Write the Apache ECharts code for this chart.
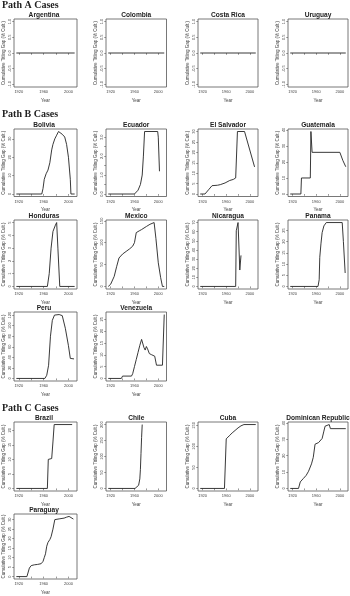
<!DOCTYPE html>
<html><head><meta charset="utf-8">
<script src="https://cdn.jsdelivr.net/npm/echarts@6/dist/echarts.min.js"></script>
<style>html,body{margin:0;padding:0;background:#fff}#c{width:350px;height:596px}</style>
</head><body><div id="c"></div>
<script>
// ---- data: [year, cumulative titling gap] ----
const argentina = [[1916,0],[2010,0]];
const colombia  = [[1916,0],[2010,0]];
const costaRica = [[1916,0],[2010,0]];
const uruguay   = [[1916,0],[2010,0]];
const bolivia = [[1916,0],[1957,0],[1959,3],[1961,8],[1964,11],[1967,13],[1970,17],[1973,24],[1975,27],[1978,30],[1981,32],[1984,34],[1987,33],[1990,32.5],[1994,31],[1997,27],[2000,20],[2003,8],[2004,0],[2010,0]];
const ecuador = [[1916,0],[1960,0],[1963,0.05],[1966,0.2],[1970,0.5],[1973,1.0],[1975,2.0],[1977,3.3],[1999,3.3],[2000,3.0],[2002,1.2]];
const elSalvador = [[1916,0],[1924,0],[1930,2],[1936,4],[1945,4.2],[1950,4.5],[1958,5.3],[1966,6.5],[1972,7],[1976,7.7],[1978,8],[1979,30],[1991,30],[2008,13]];
const guatemala = [[1916,0],[1934,0],[1935,10],[1950,10],[1951,39],[1953,26],[2000,26],[2005,21],[2010,17]];
const honduras = [[1916,0],[1966,0],[1969,1],[1972,3],[1975,4.3],[1979,4.8],[1981,5],[1983,3],[1986,0],[2010,0]];
const mexico = [[1916,0],[1920,5],[1926,23],[1930,45],[1934,65],[1940,74],[1946,80],[1952,86],[1957,92],[1960,100],[1963,123],[1968,127],[1972,130],[1980,137],[1986,142],[1993,146],[1996,110],[2000,54],[2004,20],[2007,0],[2010,0]];
const nicaragua = [[1916,0],[1976,0],[1977,61],[1978,63],[1980,70],[1983,18],[1985,34]];
const panama = [[1916,0],[1963,0],[1965,3],[1966,13],[1968,19],[1970,24],[1973,27],[1977,28.5],[2004,28.5],[2006,20],[2009,6]];
const peru = [[1916,0],[1962,0],[1965,6],[1968,25],[1971,80],[1974,110],[1977.5,120],[1985,121],[1990,119],[1995,95],[2000,62],[2003,38],[2009,37]];
const venezuela = [[1916,0],[1938,0],[1940,1],[1955,1],[1957,2],[1960,5],[1963,8],[1966,11],[1969,14],[1972,16.5],[1974,16],[1976,13],[1978,12],[1980,13.5],[1982,12.5],[1985,10.5],[1989,10],[1994,9.4],[1997,5.6],[2007,5.6],[2010,27]];
const brazil = [[1916,0],[1966,0],[1967.5,10],[1973,10.3],[1975,16],[1977,22],[2006,22]];
const chile = [[1916,0],[1961,0],[1964,3],[1967,10],[1969,30],[1970,60],[1971,110],[1972,160],[1973,200]];
const cuba = [[1916,0],[1957,0],[1960,118],[1965,125],[1970,132],[1975,138],[1980,144],[1985,149],[1990,152],[2010,152]];
const dominicanRepublic = [[1916,0],[1930,0],[1933,4],[1938,6],[1943,8],[1947,10.5],[1952,15],[1955,19],[1958,27],[1964,28],[1967,29],[1970,30.5],[1973,35],[1975,38],[1978,39],[1982,39],[1984,36.5],[2010,36.5]];
const paraguay = [[1916,0],[1933,0],[1935,1],[1937,4.5],[1940,5.8],[1945,6.2],[1950,6.4],[1956,6.8],[1959,8],[1961,10],[1963,12],[1965,16],[1967,18],[1970,19.5],[1972,21],[1975,25],[1978,30],[1985,30.4],[1993,30.8],[1997,31.3],[2001,31.7],[2004,31],[2008,30.3]];

// ---- panel definitions ----
const panelNames = ['Argentina','Colombia','Costa Rica','Uruguay','Bolivia','Ecuador','El Salvador','Guatemala','Honduras','Mexico','Nicaragua','Panama','Peru','Venezuela','Brazil','Chile','Cuba','Dominican Republic','Paraguay'];
const panelData = [argentina,colombia,costaRica,uruguay,bolivia,ecuador,elSalvador,guatemala,honduras,mexico,nicaragua,panama,peru,venezuela,brazil,chile,cuba,dominicanRepublic,paraguay];
const yTickVals = [
  [-1,-0.5,0,0.5,1],[-1,-0.5,0,0.5,1],[-1,-0.5,0,0.5,1],[-1,-0.5,0,0.5,1],
  [0,10,20,30],[0,0.5,1,1.5,2,2.5,3],[0,5,10,15,20,25,30],[0,10,20,30,40],
  [0,1,2,3,4,5],[0,50,100,150],[0,10,20,30,40,50,60,70],[0,5,10,15,20,25],
  [0,20,40,60,80,100,120],[0,5,10,15,20,25],
  [0,5,10,15,20],[0,50,100,150,200],[0,50,100,150],[0,10,20,30,40],
  [0,5,10,15,20,25,30]
];
const yLabelVals = yTickVals.map((t,i)=> i===5 ? [0,1,2,3] : t);
const yDecimals = [1,1,1,1, 0,1,0,0, 0,0,0,0, 0,0, 0,0,0,0, 0];
const xTickVals = [1920,1940,1960,1980,2000];
const xLabelVals = [1920,1960,2000];
const sectionTitles = ['Path A Cases','Path B Cases','Path C Cases'];

// ---- layout (pixels) ----
const colLeft = [11,106,198,288];
const colWidth = [66,60.5,60,60];
const rowTop = [19,129,220,312,422,514];
const rowHeight = [68,67.5,69,69,69,70];
const panelPos = [[0,0],[0,1],[0,2],[0,3],[1,0],[1,1],[1,2],[1,3],[2,0],[2,1],[2,2],[2,3],[3,0],[3,1],[4,0],[4,1],[4,2],[4,3],[5,0]];
const sectionTop = [0.5,109.5,403.5];

const FONT = 'Liberation Sans';
const grids=[],xAxes=[],yAxes=[],series=[],titles=[],graphics=[];
panelNames.forEach((name,i)=>{
  const [r,c]=panelPos[i];
  const left=colLeft[c], top=rowTop[r], w=colWidth[c], h=rowHeight[r];
  grids.push({left,top,width:w,height:h,show:true,borderColor:'#555',borderWidth:0.8,backgroundColor:'transparent'});
  const vals = panelData[i].map(p=>p[1]);
  let lo=Math.min(...vals), hi=Math.max(...vals);
  if(hi===lo){lo-=1;hi+=1;}
  const pad=(hi-lo)*0.04;
  xAxes.push({gridIndex:i,type:'value',min:1912.2,max:2013.8,
    axisLine:{show:false},splitLine:{show:false},
    axisTick:{show:true,inside:false,length:1.8,customValues:xTickVals,lineStyle:{color:'#555',width:0.6}},
    axisLabel:{customValues:xLabelVals,fontSize:4,margin:3,color:'#444',fontFamily:FONT,formatter:v=>String(v)},
    name:'Year',nameLocation:'middle',nameGap:11,nameTextStyle:{fontSize:4.5,color:'#444',fontFamily:FONT}});
  const dec=yDecimals[i];
  yAxes.push({gridIndex:i,type:'value',min:lo-pad,max:hi+pad,
    axisLine:{show:false},splitLine:{show:false},
    axisTick:{show:true,inside:false,length:1.8,customValues:yTickVals[i],lineStyle:{color:'#555',width:0.6}},
    axisLabel:{customValues:yLabelVals[i],rotate:90,fontSize:4,margin:2.5,color:'#444',fontFamily:FONT,
      formatter:v=>Number(v).toFixed(dec)},
    name:'Cumulative Titling Gap (% Cult.)',nameLocation:'middle',nameGap:8,nameRotate:90,
    nameTextStyle:{fontSize:4.5,color:'#444',fontFamily:FONT}});
  series.push({type:'line',xAxisIndex:i,yAxisIndex:i,data:panelData[i],showSymbol:false,
    lineStyle:{color:'#222',width:0.9},animation:false,silent:true});
  titles.push({text:name,left:left+w/2,top:top-7,textAlign:'center',padding:0,
    textStyle:{fontSize:6.6,fontWeight:'bold',color:'#222',fontFamily:FONT}});
});
sectionTitles.forEach((t,k)=>{
  graphics.push({type:'text',left:2,top:sectionTop[k],style:{text:t,font:'bold 10px "Liberation Serif"',fill:'#222'}});
});

const chart = echarts.init(document.getElementById('c'),null,{renderer:'canvas'});
chart.setOption({animation:false,title:titles,grid:grids,xAxis:xAxes,yAxis:yAxes,series,graphic:graphics});
</script></body></html>
